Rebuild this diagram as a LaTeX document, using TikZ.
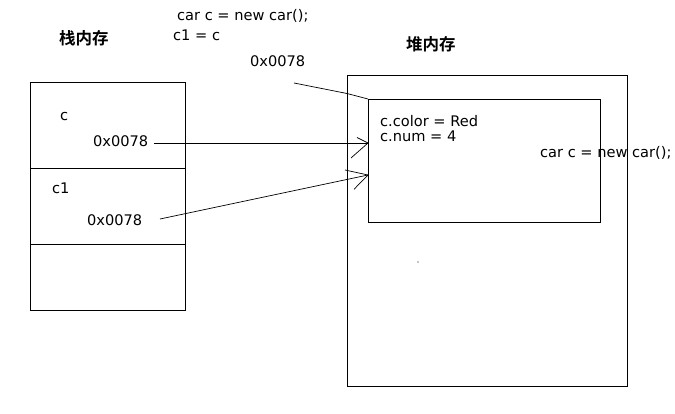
\documentclass[tikz,border=0pt]{standalone}
\usepackage{fontspec}
\setmainfont{DejaVu Sans}
\newfontfamily\cjk{Noto Sans CJK SC Bold}
\begin{document}
\begin{tikzpicture}[x=1pt,y=-1pt,
  txt/.style={anchor=west,inner sep=0pt,font=\fontsize{14.6}{16}\selectfont},
  cjktxt/.style={anchor=west,inner sep=0pt,font=\cjk\fontsize{16.5}{18}\selectfont},
  box/.style={draw,line width=1pt,anchor=north west,inner sep=0pt},
  conn/.style={line width=0.7pt}]
\useasboundingbox (0,0) rectangle (675,414);
% stack
\node[box,minimum width=155pt,minimum height=228pt] (stack) at (30,82) {};
\draw[line width=1pt] (30,169) coordinate (d1a) -- (185,169) coordinate (d1b);
\draw[line width=1pt] (30,245) coordinate (d2a) -- (185,245) coordinate (d2b);
% heap
\node[box,minimum width=280pt,minimum height=311pt] (heap) at (346.5,75) {};
\node[box,minimum width=232pt,minimum height=123pt] (obj) at (368,99) {};
% texts
\node[txt] (code1) at (177,16) {car c = new car();};
\node[txt] (code2) at (173,35) {c1 = c};
\node[cjktxt] (stk) at (59,38) {栈内存};
\node[cjktxt] (hp) at (406,44) {堆内存};
\node[txt] (addr) at (250,61) {0x0078};
\node[txt] (vc) at (60,117) {c};
\node[txt] (va) at (93,141) {0x0078};
\node[txt] (vc1) at (52,188) {c1};
\node[txt] (vb) at (87,220) {0x0078};
\node[txt] (f1) at (380,121) {c.color = Red};
\node[txt] (f2) at (380,136) {c.num = 4};
\node[txt] (code3) at (540,153) {car c = new car();};
% connectors
\coordinate (s0) at (294,83);
\coordinate (k0) at (347,93.5);
\draw[conn] (s0) -- (k0) -- (obj.north west);
\coordinate (s1) at (154,143);
\coordinate (t1) at (368,143);
\draw[conn] (s1) -- (t1);
\draw[conn] (t1) -- ++(-11,-5.5);
\draw[conn] (t1) -- ++(-17,15);
\coordinate (s2) at (160,219);
\coordinate (t2) at (368,175);
\draw[conn] (s2) -- (t2);
\draw[conn] (t2) -- ++(-23,-5);
\draw[conn] (t2) -- ++(-14,14.3);
\fill (418,262) circle (0.6pt);
\end{tikzpicture}
\end{document}
